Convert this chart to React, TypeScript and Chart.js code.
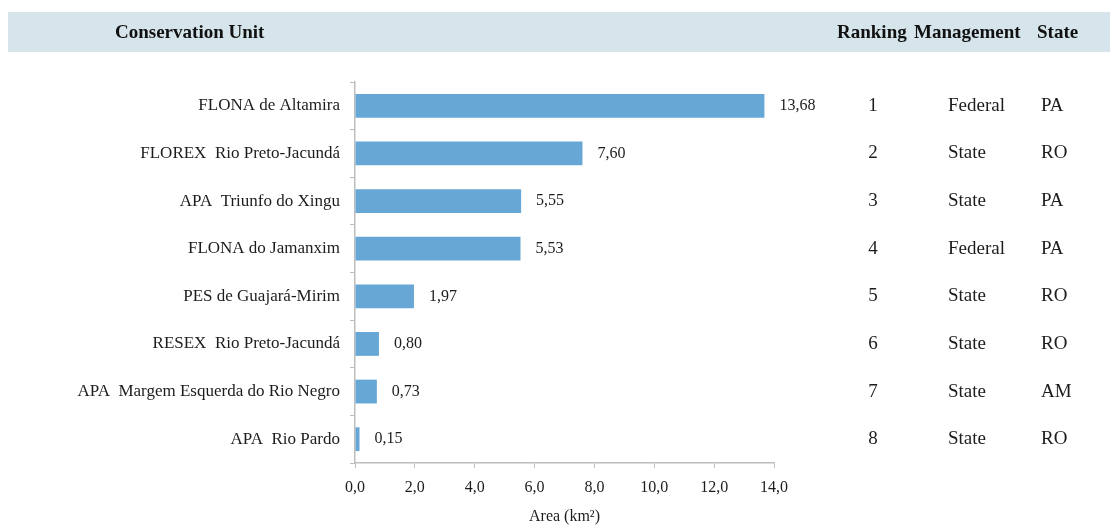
import React, { useEffect, useRef } from 'react';
import { Chart, registerables } from 'chart.js';

Chart.register(...registerables);

const units = [
  'FLONA de Altamira',
  'FLOREX  Rio Preto-Jacundá',
  'APA  Triunfo do Xingu',
  'FLONA do Jamanxim',
  'PES de Guajará-Mirim',
  'RESEX  Rio Preto-Jacundá',
  'APA  Margem Esquerda do Rio Negro',
  'APA  Rio Pardo',
];
const areas = [13.68, 7.6, 5.55, 5.53, 1.97, 0.8, 0.73, 0.15];
const rankings = ['1', '2', '3', '4', '5', '6', '7', '8'];
const management = ['Federal', 'State', 'State', 'Federal', 'State', 'State', 'State', 'State'];
const states = ['PA', 'RO', 'PA', 'PA', 'RO', 'RO', 'AM', 'RO'];
const xMin = 0;
const xMax = 14;
const xStep = 2;
const headerLeft = 'Conservation Unit';
const headerRight = ['Ranking', 'Management', 'State'];
const axisTitle = 'Area (km²)';

const SERIF = '"Liberation Serif", "Times New Roman", serif';
const TEXT = '#1c1c1c';
const AXIS = '#bdbdbd';

const fmt = (v: number, d: number) => v.toFixed(d).replace('.', ',');

const overlay = {
  id: 'overlay',
  beforeDraw(chart: any) {
    const ctx = chart.ctx;
    ctx.save();
    ctx.fillStyle = '#ffffff';
    ctx.fillRect(0, 0, chart.width, chart.height);
    ctx.fillStyle = '#d5e5eb';
    ctx.fillRect(8, 12, chart.width - 8, 40);
    ctx.fillStyle = '#111111';
    ctx.font = `bold 19px ${SERIF}`;
    ctx.textBaseline = 'middle';
    ctx.textAlign = 'left';
    ctx.fillText(headerLeft, 115, 33);
    const xs = [837, 914, 1037];
    headerRight.forEach((h, i) => ctx.fillText(h, xs[i], 33));
    ctx.restore();
  },
  afterDatasetsDraw(chart: any) {
    const ctx = chart.ctx;
    const meta = chart.getDatasetMeta(0);
    ctx.save();
    ctx.fillStyle = TEXT;
    ctx.textBaseline = 'middle';
    ctx.textAlign = 'left';
    meta.data.forEach((bar: any, i: number) => {
      ctx.font = `16px ${SERIF}`;
      ctx.fillText(fmt(areas[i], 2), bar.x + 15, bar.y);
      ctx.font = `19px ${SERIF}`;
      ctx.textAlign = 'center';
      ctx.fillText(rankings[i], 873, bar.y);
      ctx.textAlign = 'left';
      ctx.fillText(management[i], 948, bar.y);
      ctx.fillText(states[i], 1041, bar.y);
    });
    ctx.restore();
  },
};

export default function App() {
  const ref = useRef<HTMLCanvasElement>(null);
  useEffect(() => {
    if (!ref.current) return;
    const chart = new Chart(ref.current, {
      type: 'bar',
      data: {
        labels: units,
        datasets: [
          {
            data: areas,
            backgroundColor: '#67a7d6',
            borderWidth: 0,
            barPercentage: 0.5,
            categoryPercentage: 1,
          },
        ],
      },
      options: {
        indexAxis: 'y',
        responsive: false,
        animation: false,
        devicePixelRatio: 1,
        layout: { padding: { top: 82, right: 336, bottom: 0, left: 0 } },
        plugins: { legend: { display: false }, tooltip: { enabled: false } },
        scales: {
          x: {
            min: xMin,
            max: xMax,
            afterFit: (s: any) => {
              s.height = 62;
            },
            ticks: {
              stepSize: xStep,
              padding: 10,
              color: TEXT,
              font: { family: SERIF, size: 16 },
              callback: (v: any) => fmt(Number(v), 1),
            },
            grid: { drawOnChartArea: false, tickLength: 5, color: AXIS },
            border: { color: AXIS, width: 1.5 },
            title: {
              display: true,
              text: axisTitle,
              color: TEXT,
              font: { family: SERIF, size: 16, lineHeight: 1 },
              padding: { top: 0, bottom: 0 },
            },
          },
          y: {
            afterFit: (s: any) => {
              s.width = 355;
            },
            ticks: {
              padding: 10,
              color: TEXT,
              font: { family: SERIF, size: 17 },
            },
            grid: { drawOnChartArea: false, tickLength: 5, color: AXIS, offset: true },
            border: { color: AXIS, width: 1.5 },
          },
        },
      },
      plugins: [overlay],
    });
    return () => chart.destroy();
  }, []);
  return (
    <div style={{ position: 'fixed', left: 0, top: 0, width: 1110, height: 525, background: '#fff' }}>
      <canvas ref={ref} width={1110} height={525} style={{ width: 1110, height: 525, display: 'block' }} />
    </div>
  );
}
